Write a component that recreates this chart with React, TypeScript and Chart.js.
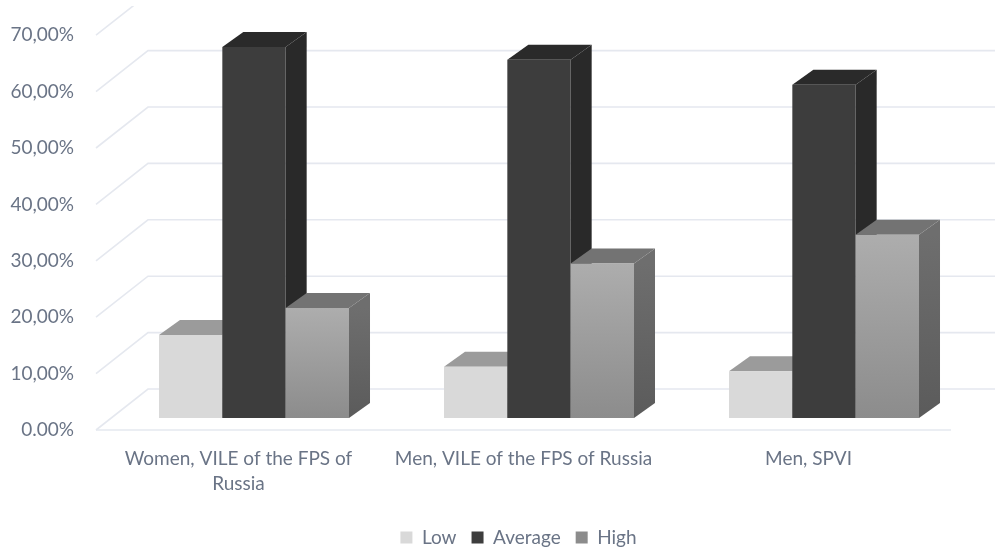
import React, { useEffect, useRef } from "react";
import { Chart, registerables } from "chart.js";

Chart.register(...registerables);

const categories = [
  ["Women, VILE of the FPS of", "Russia"],
  "Men, VILE of the FPS of Russia",
  "Men, SPVI",
];
const low = [14.7, 9.1, 8.3];
const average = [65.8, 63.5, 59.1];
const high = [19.5, 27.4, 32.5];
const tickLabels = ["0.00%", "10,00%", "20,00%", "30,00%", "40,00%", "50,00%", "60,00%", "70,00%"];

const FONT = "Lato, 'Open Sans', sans-serif";
const TEXT = "#6a7486";
const GRID = "#e5e8ef";

// Depth of the box: floor and back wall, and the offset and extrusion of the bars.
const WALL_X = 52;
const WALL_Y = 41;
const BAR_SHIFT_X = 15.5;
const BAR_SHIFT_Y = -12;
const EXTRUDE_X = 21;
const EXTRUDE_Y = 15;

const faces = [
  { top: "#9b9b9b", side: ["#8f8f8f", "#8f8f8f"] },
  { top: "#2a2a2a", side: ["#292929", "#292929"] },
  { top: "#737373", side: ["#6e6e6e", "#5b5b5b"] },
];

function polygon(ctx: CanvasRenderingContext2D, pts: number[][], fill: any) {
  ctx.beginPath();
  pts.forEach(([x, y], i) => (i ? ctx.lineTo(x, y) : ctx.moveTo(x, y)));
  ctx.closePath();
  ctx.fillStyle = fill;
  ctx.fill();
}

const box3d = {
  id: "box3d",
  afterLayout(chart: any) {
    chart.legend.left -= 5;
    chart.legend.right -= 5;
  },
  beforeDatasetsDraw(chart: any) {
    const { ctx, chartArea, scales } = chart;
    ctx.save();
    ctx.beginPath();
    ctx.rect(0, 6, chart.width, chart.height);
    ctx.clip();
    ctx.strokeStyle = GRID;
    ctx.lineWidth = 1.6;
    scales.y.ticks.forEach((t: any) => {
      const y = scales.y.getPixelForValue(t.value);
      ctx.beginPath();
      ctx.moveTo(chartArea.left, y);
      ctx.lineTo(chartArea.left + WALL_X, y - WALL_Y);
      ctx.lineTo(chartArea.right + WALL_X, y - WALL_Y);
      ctx.stroke();
    });
    const y0 = scales.y.getPixelForValue(0);
    ctx.beginPath();
    ctx.moveTo(chartArea.left, y0);
    ctx.lineTo(chartArea.right, y0);
    ctx.stroke();
    ctx.restore();

    // Bars stand on the floor, part way back from its front edge. Series are
    // painted first to last so that each one covers the side of the one before.
    ctx.save();
    ctx.translate(BAR_SHIFT_X, BAR_SHIFT_Y);
    chart.getSortedVisibleDatasetMetas().forEach((meta: any) => {
      const face = faces[meta.index];
      meta.data.forEach((bar: any) => {
        const { x, y, base, width } = bar.getProps(["x", "y", "base", "width"]);
        const l = x - width / 2;
        const r = x + width / 2;
        polygon(ctx, [[l, y], [l + EXTRUDE_X, y - EXTRUDE_Y], [r + EXTRUDE_X, y - EXTRUDE_Y], [r, y]], face.top);
        const g = ctx.createLinearGradient(0, y, 0, base);
        g.addColorStop(0, face.side[0]);
        g.addColorStop(1, face.side[1]);
        polygon(ctx, [[r, y], [r + EXTRUDE_X, y - EXTRUDE_Y], [r + EXTRUDE_X, base - EXTRUDE_Y], [r, base]], g);
      });
      meta.controller.draw();
    });
    ctx.restore();
    return false;
  },
};

// The third series is shaded from top to bottom on each bar.
function highFill(c: any) {
  if (c.type !== "data" || !c.chart.chartArea) return "#969696";
  const y = c.chart.scales.y;
  const g = c.chart.ctx.createLinearGradient(0, y.getPixelForValue(c.raw), 0, y.getPixelForValue(0));
  g.addColorStop(0, "#adadad");
  g.addColorStop(1, "#8c8c8c");
  return g;
}

export default function App() {
  const ref = useRef<HTMLCanvasElement>(null);
  useEffect(() => {
    const chart = new Chart(ref.current!, {
      type: "bar",
      data: {
        labels: categories as any,
        datasets: [
          { label: "Low", data: low, backgroundColor: "#d9d9d9" },
          { label: "Average", data: average, backgroundColor: "#3d3d3d" },
          { label: "High", data: high, backgroundColor: highFill },
        ] as any,
      },
      options: {
        responsive: false,
        animation: false,
        categoryPercentage: 0.6667,
        barPercentage: 1,
        layout: { padding: { top: 35.2, right: 44, left: 0, bottom: -8 } },
        plugins: {
          title: { display: false },
          tooltip: { enabled: false },
          legend: {
            position: "bottom",
            fullSize: false,
            labels: {
              font: { family: FONT, size: 19 },
              color: TEXT,
              boxWidth: 12,
              boxHeight: 12,
              padding: 15,
            },
          },
        },
        scales: {
          x: {
            border: { display: false },
            grid: { display: false },
            ticks: {
              font: { family: FONT, size: 19, lineHeight: 1.3 },
              color: TEXT,
              maxRotation: 0,
              autoSkip: false,
              padding: 9,
            },
            afterFit: (s: any) => {
              s.height = 83;
            },
          },
          y: {
            min: 0,
            max: 70,
            border: { display: false },
            grid: { display: false },
            ticks: {
              stepSize: 10,
              font: { family: FONT, size: 19 },
              color: TEXT,
              padding: 14,
              callback: (_v: any, i: number) => tickLabels[i],
            },
            afterFit: (s: any) => {
              s.width = 96;
            },
          },
        },
      } as any,
      plugins: [box3d],
    });
    return () => chart.destroy();
  }, []);
  return (
    <div style={{ position: "absolute", left: 0, top: 0, width: 995, height: 549, overflow: "hidden", background: "#fff" }}>
      <canvas ref={ref} width={995} height={549} style={{ display: "block" }} />
    </div>
  );
}
